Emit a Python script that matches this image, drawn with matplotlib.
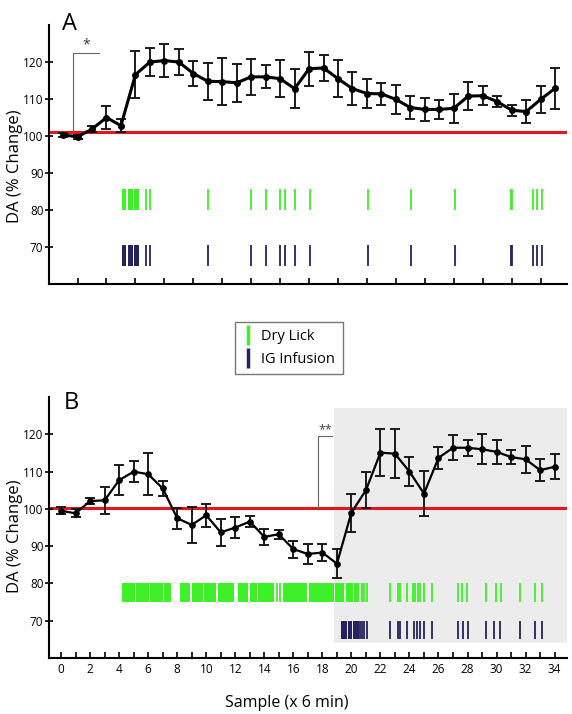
import matplotlib
matplotlib.use('Agg')
import matplotlib.pyplot as plt
from matplotlib.lines import Line2D
from matplotlib.patches import Rectangle

plt.rcParams['font.family'] = ['Open Sans', 'DejaVu Sans']

# sample index (x 6 min)
samples = list(range(35))

# panel A: DA (% change), mean and SEM
a_mean = [100.3, 99.8, 101.9, 105.0, 102.8, 116.6, 120.0, 120.4, 120.0, 116.9,
          114.8, 114.7, 114.4, 116.0, 116.0, 115.5, 112.8, 118.2, 118.4, 115.5,
          112.8, 111.5, 111.4, 109.9, 107.7, 107.2, 107.2, 107.5, 110.8, 110.9,
          109.3, 107.0, 106.6, 109.9, 112.9]
a_err = [0.5, 0.5, 0.8, 3.0, 1.7, 6.4, 3.8, 4.4, 3.5, 3.3,
         5.0, 6.3, 5.2, 4.8, 3.1, 5.0, 5.3, 4.6, 3.4, 5.0,
         4.5, 3.8, 3.0, 4.0, 3.0, 3.1, 2.5, 4.0, 3.8, 2.5,
         1.5, 1.5, 3.1, 3.6, 5.5]

# panel B
b_mean = [99.5, 98.8, 102.1, 102.3, 107.7, 110.0, 109.3, 105.5, 97.5, 95.7,
          98.3, 93.7, 95.0, 96.6, 92.5, 93.2, 89.2, 87.9, 88.3, 85.3,
          99.0, 105.0, 115.1, 114.8, 110.0, 104.1, 113.7, 116.4, 116.4, 116.0,
          115.3, 113.9, 113.3, 110.4, 111.3]
b_err = [1.0, 1.1, 0.8, 3.6, 4.0, 2.9, 5.6, 2.1, 2.8, 4.9,
         3.1, 3.7, 2.7, 1.5, 2.1, 1.2, 2.3, 2.8, 2.4, 3.9,
         5.1, 4.8, 6.4, 6.5, 3.8, 6.0, 2.9, 3.3, 2.2, 4.0,
         3.3, 1.9, 3.7, 2.9, 3.3]

# rasters: dense bouts (start, end) and single events, in samples
a_bouts = [(4.05, 4.37), (4.5, 4.8), (4.92, 5.26)]
a_events = [5.74, 6.02, 9.99, 13.01, 14.03, 15.02, 15.32, 16.0, 17.05,
            21.06, 24.06, 27.06, 30.95, 31.02, 32.48, 32.78, 33.08]

b_lick_bouts = [(4.19, 5.06), (5.13, 6.05), (6.14, 7.01), (7.08, 7.57),
                (8.16, 8.9), (8.99, 9.77), (9.86, 10.69), (10.78, 11.88),
                (12.16, 12.85), (13.03, 13.49), (13.6, 14.64), (15.3, 16.94),
                (17.05, 18.8), (18.9, 19.5), (19.6, 20.1), (20.15, 20.55)]
b_lick_events = [14.9, 15.06, 20.74, 20.9, 21.08, 22.69, 23.19, 23.33, 23.84,
                 24.25, 24.41, 24.57, 24.76, 24.99, 25.56, 27.36, 27.63, 27.98,
                 29.24, 29.93, 30.28, 31.59, 32.62, 33.15]
b_inf_bouts = [(19.25, 19.7), (19.75, 20.05), (20.1, 20.5)]
b_inf_events = [20.62, 20.74, 20.9, 21.08, 22.69, 23.22, 23.38, 23.84, 24.28,
                24.5, 24.76, 25.02, 25.56, 27.36, 27.68, 28.05, 29.24, 29.82,
                30.24, 31.59, 32.62, 33.15]

green = '#3ef028'
navy = '#24235f'
red = '#e3151f'


def raster(ax, bouts, events, y0, y1, color):
    ax.broken_barh([(s, e - s) for s, e in bouts], (y0, y1 - y0),
                   facecolor=color, edgecolor='none')
    ax.vlines(events, y0, y1, color=color, lw=1.3)


def style(ax):
    for s in ['top', 'right']:
        ax.spines[s].set_visible(False)
    ax.spines['left'].set_linewidth(1.5)
    ax.spines['bottom'].set_linewidth(1.5)
    ax.set_ylim(60, 130)
    ax.set_yticks([70, 80, 90, 100, 110, 120])
    ax.tick_params(axis='y', direction='inout', length=6, width=1.2, labelsize=8.5, pad=1)
    ax.tick_params(axis='x', which='both', direction='in', length=4, width=1.2, labelsize=8.5)


fig = plt.figure(figsize=(5.72, 7.14), dpi=100)
axA = fig.add_axes([0.0857, 0.6022, 0.905, 0.3627])
axB = fig.add_axes([0.0857, 0.0784, 0.905, 0.3655])

# ---- panel A
style(axA)
axA.set_xlim(-0.97, 34.8)
axA.set_xticks(range(1, 35, 2))
axA.set_xticklabels([])
axA.axhline(101, color=red, lw=2.2, zorder=1)
raster(axA, a_bouts, a_events, 80, 85.7, green)
raster(axA, a_bouts, a_events, 65, 70.6, navy)
axA.errorbar(samples, a_mean, yerr=a_err, color='black', lw=2.2, marker='o', ms=4,
             ecolor='#1a1a1a', elinewidth=1.4, capsize=3.3, capthick=1.4, zorder=3)
axA.plot([0.7, 0.7, 2.45], [101, 122.4, 122.4], color='#666666', lw=0.8)
axA.text(1.6, 122.6, '*', ha='center', va='bottom', fontsize=10, color='#333333')
axA.set_ylabel('DA (% Change)', fontsize=12)
axA.yaxis.set_label_coords(-0.05, 0.456)
fig.text(0.121, 0.967, 'A', fontsize=17, ha='center', va='center')

# ---- panel B
style(axB)
axB.set_xlim(-0.83, 34.83)
axB.set_xticks(range(0, 35, 2))
axB.set_xticks(range(1, 35, 2), minor=True)
axB.add_patch(Rectangle((18.8, 64), 34.83 - 18.8, 127 - 64, facecolor='#ececec',
                        edgecolor='none', zorder=0))
axB.axhline(100.2, color=red, lw=2.2, zorder=1)
raster(axB, b_lick_bouts, b_lick_events, 75, 80, green)
raster(axB, b_inf_bouts, b_inf_events, 65, 70, navy)
axB.errorbar(samples, b_mean, yerr=b_err, color='black', lw=1.6, marker='o', ms=3.8,
             ecolor='#1a1a1a', elinewidth=1.4, capsize=3.3, capthick=1.4, zorder=3)
axB.plot([17.7, 17.7, 18.65], [100.2, 119.5, 119.5], color='#666666', lw=0.8)
axB.text(18.2, 119.6, '**', ha='center', va='bottom', fontsize=9, color='#444444')
axB.set_ylabel('DA (% Change)', fontsize=12)
axB.yaxis.set_label_coords(-0.05, 0.467)
axB.set_xlabel('Sample (x 6 min)', fontsize=11.5)
axB.xaxis.set_label_coords(0.46, -0.14)
fig.text(0.124, 0.436, 'B', fontsize=17, ha='center', va='center')

# ---- legend between panels
handles = [Line2D([], [], color=green, marker='|', linestyle='None', markersize=14, mew=2.5),
           Line2D([], [], color=navy, marker='|', linestyle='None', markersize=14, mew=2.5)]
fig.legend(handles, ['Dry Lick', 'IG Infusion'], loc='center', bbox_to_anchor=(0.505, 0.5126),
           fontsize=10.5, frameon=True, fancybox=False, edgecolor='#555555',
           handlelength=0.8, handletextpad=0.5, borderpad=0.5, labelspacing=0.5)

fig.savefig('out.png', dpi=100)
